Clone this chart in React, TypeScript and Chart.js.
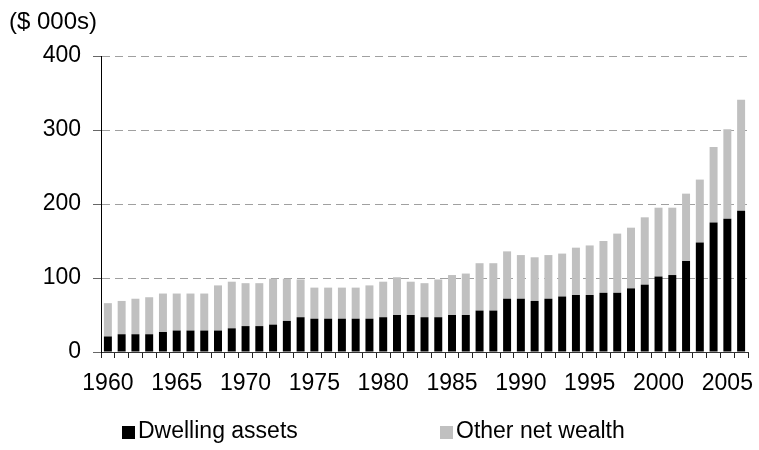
import { useEffect, useRef } from 'react';
import { Chart, registerables } from 'chart.js';

Chart.register(...registerables);

const years = [
  '1960', '1961', '1962', '1963', '1964', '1965', '1966', '1967', '1968', '1969',
  '1970', '1971', '1972', '1973', '1974', '1975', '1976', '1977', '1978', '1979',
  '1980', '1981', '1982', '1983', '1984', '1985', '1986', '1987', '1988', '1989',
  '1990', '1991', '1992', '1993', '1994', '1995', '1996', '1997', '1998', '1999',
  '2000', '2001', '2002', '2003', '2004', '2005', '2006',
];

const dwellingAssets = [
  21, 24, 24, 24, 27, 29, 29, 29, 29, 32,
  35, 35, 37, 42, 47, 45, 45, 45, 45, 45,
  47, 50, 50, 47, 47, 50, 50, 56, 56, 72,
  72, 69, 72, 75, 77, 77, 80, 80, 86, 91,
  102, 104, 123, 148, 175, 180, 191,
];

const otherNetWealth = [
  45, 45, 48, 50, 52, 50, 50, 50, 61, 63,
  58, 58, 62, 57, 51, 42, 42, 42, 42, 45,
  48, 51, 45, 46, 51, 54, 56, 64, 64, 64,
  59, 59, 59, 58, 64, 67, 70, 80, 82, 91,
  93, 91, 91, 85, 102, 121, 150,
];

const labeledYears = ['1960', '1965', '1970', '1975', '1980', '1985', '1990', '1995', '2000', '2005'];
const yMin = 0;
const yMax = 400;
const yStep = 100;
const unitLabel = '($ 000s)';
const seriesNames = ['Dwelling assets', 'Other net wealth'];
const seriesColors = ['#000000', '#c0c0c0'];

const FONT = '"Liberation Sans", Arial, Helvetica, sans-serif';

const extrasPlugin = {
  id: 'extras',
  afterDraw(chart: any) {
    const ctx = chart.ctx;
    ctx.save();
    ctx.fillStyle = '#000';
    ctx.font = `24px ${FONT}`;
    ctx.textBaseline = 'middle';
    ctx.textAlign = 'left';
    ctx.fillText(unitLabel, 9, 22);

    ctx.font = `23px ${FONT}`;
    const legendX = [122, 440];
    const legendY = 432;
    chart.data.datasets.forEach((ds: any, i: number) => {
      const x = legendX[i];
      ctx.fillStyle = ds.backgroundColor;
      ctx.fillRect(x, legendY - 6, 13, 13);
      ctx.fillStyle = '#000';
      ctx.fillText(ds.label, x + 16, legendY);
    });
    ctx.restore();
  },
};

export default function App() {
  const canvasRef = useRef<HTMLCanvasElement | null>(null);

  useEffect(() => {
    if (!canvasRef.current) return;
    const chart = new Chart(canvasRef.current, {
      type: 'bar',
      data: {
        labels: years,
        datasets: [
          {
            label: seriesNames[0],
            data: dwellingAssets,
            backgroundColor: seriesColors[0],
            borderWidth: 0,
            barPercentage: 0.58,
            categoryPercentage: 1,
          },
          {
            label: seriesNames[1],
            data: otherNetWealth,
            backgroundColor: seriesColors[1],
            borderWidth: 0,
            barPercentage: 0.58,
            categoryPercentage: 1,
          },
        ],
      },
      options: {
        animation: false,
        responsive: false,
        maintainAspectRatio: false,
        layout: { padding: { top: 56, right: 11, left: 0, bottom: 0 } },
        plugins: {
          legend: { display: false },
          title: { display: false },
          tooltip: { enabled: false },
        },
        scales: {
          x: {
            stacked: true,
            offset: true,
            afterFit: (scale: any) => {
              scale.height = 98;
            },
            grid: {
              display: true,
              offset: true,
              drawOnChartArea: false,
              drawTicks: true,
              tickLength: 6,
              color: '#222',
            },
            border: { display: true, color: '#333', width: 1 },
            ticks: {
              autoSkip: false,
              maxRotation: 0,
              minRotation: 0,
              padding: 12,
              color: '#000',
              font: { family: FONT, size: 23 },
              callback: (_v: any, index: number) =>
                labeledYears.includes(years[index]) ? years[index] : '',
            },
          },
          y: {
            stacked: true,
            min: yMin,
            max: yMax,
            afterFit: (scale: any) => {
              scale.width = 101;
            },
            grid: {
              color: (c: any) => (c.tick && c.tick.value === 0 ? 'rgba(0,0,0,0)' : '#a0a0a0'),
              tickColor: '#666',
              tickLength: 8,
              lineWidth: 1,
            },
            border: { display: true, color: '#000', width: 1, dash: [8, 5] },
            ticks: {
              stepSize: yStep,
              padding: 12,
              color: '#000',
              font: { family: FONT, size: 23 },
            },
          },
        },
      },
      plugins: [extrasPlugin],
    });
    return () => chart.destroy();
  }, []);

  return (
    <div style={{ position: 'absolute', left: 0, top: 0, width: 759, height: 450, background: '#fff' }}>
      <canvas ref={canvasRef} width={759} height={450} style={{ width: 759, height: 450 }} />
    </div>
  );
}
